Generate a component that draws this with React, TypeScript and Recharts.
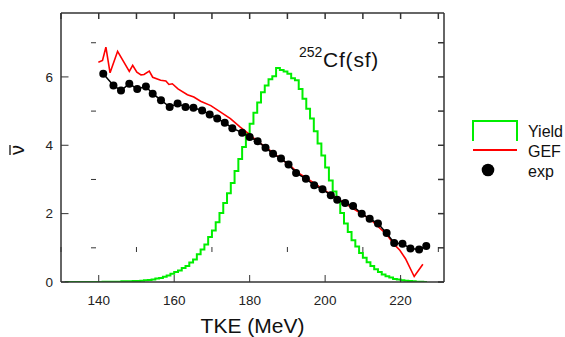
import { ComposedChart, Label, Legend, Line, XAxis, YAxis } from "recharts";

const tkeDomain = [130, 231.5];
const nuDomain = [0, 7.87];

const xLabelTicks = [140, 160, 180, 200, 220];
const xMinorTicks = [130, 150, 170, 190, 210, 230];
const xTopTicks = [130, 140, 150, 160, 170, 180, 190, 200, 210, 220, 230];
const yLabelTicks = [0, 2, 4, 6];
const yMinorTicks = [1, 3, 5, 7];
const yRightTicks = [0, 1, 2, 3, 4, 5, 6, 7];

const seriesNames = ["Yield", "GEF", "exp"];

// fission yield histogram, 1 MeV bins starting at 131 MeV
const yieldFirstBin = 131;
const yieldValues = [
  0.0, 0.0, 0.0, 0.0, 0.0, 0.0, 0.0, 0.0, 0.0, 0.0,
  0.01, 0.01, 0.01, 0.01, 0.01, 0.02, 0.02, 0.02, 0.03, 0.03,
  0.04, 0.05, 0.06, 0.07, 0.1, 0.12, 0.15, 0.19, 0.24, 0.29,
  0.34, 0.41, 0.47, 0.57, 0.66, 0.81, 0.95, 1.1, 1.32, 1.51,
  1.75, 2.02, 2.31, 2.6, 2.9, 3.25, 3.6, 3.95, 4.34, 4.63,
  4.95, 5.25, 5.55, 5.75, 5.93, 6.02, 6.26, 6.2, 6.16, 6.09,
  5.96, 5.9, 5.65, 5.36, 5.07, 4.78, 4.41, 4.05, 3.7, 3.35,
  2.97, 2.65, 2.37, 2.02, 1.71, 1.46, 1.22, 1.04, 0.85, 0.71,
  0.58, 0.47, 0.37, 0.29, 0.22, 0.17, 0.13, 0.09, 0.07, 0.05,
  0.04, 0.03, 0.02, 0.01, 0.01, 0.0,
];

const gefTke = [
  139.9, 141.0, 141.9, 143.0, 145.0, 148.1, 149.0, 150.1, 151.2, 152.0,
  153.4, 154.3, 156.4, 157.8, 158.6, 159.5, 161.0, 163.5, 165.2, 167.0,
  169.7, 172.3, 174.9, 177.5, 179.7, 182.0, 184.2, 186.4, 188.5, 190.7,
  192.5, 196.0, 201.3, 207.4, 211.8, 216.3, 218.3, 219.8, 221.3, 223.6, 225.9,
];
const gefNu = [
  6.43, 6.48, 6.87, 6.12, 6.75, 6.16, 6.34, 6.14, 6.06, 6.07,
  6.17, 5.99, 5.9, 5.88, 5.78, 5.8, 5.65, 5.48, 5.41, 5.29,
  5.16, 4.97, 4.78, 4.53, 4.34, 4.12, 3.95, 3.76, 3.58, 3.41,
  3.22, 2.97, 2.58, 2.15, 1.85, 1.39, 1.1, 0.93, 0.68, 0.16, 0.52,
];

const expTke = [
  141.2, 143.9, 145.9, 148.1, 150.2, 152.5, 154.3, 156.5, 158.8, 160.9,
  163.0, 165.1, 167.4, 169.4, 171.4, 173.4, 175.4, 178.0, 180.0, 182.1,
  184.2, 186.2, 188.3, 190.3, 192.3, 194.9, 197.1, 199.3, 201.5, 203.2,
  205.3, 207.4, 209.7, 211.8, 214.0, 216.3, 218.3, 220.5, 222.6, 224.9, 226.8,
];
const expNu = [
  6.09, 5.75, 5.6, 5.8, 5.65, 5.72, 5.51, 5.32, 5.12, 5.22,
  5.12, 5.1, 5.02, 4.9, 4.78, 4.66, 4.5, 4.37, 4.24, 4.12,
  3.93, 3.75, 3.61, 3.44, 3.19, 3.02, 2.83, 2.71, 2.54, 2.41,
  2.31, 2.22, 2.0, 1.85, 1.71, 1.43, 1.14, 1.12, 0.98, 0.95, 1.05,
];

const yieldData = yieldValues.map((nu, i) => ({ tke: yieldFirstBin + i, nu }));
yieldData.push({ tke: yieldFirstBin + yieldValues.length, nu: yieldValues[yieldValues.length - 1] });
const gefData = gefTke.map((tke, i) => ({ tke, nu: gefNu[i] }));
const expData = expTke.map((tke, i) => ({ tke, nu: expNu[i] }));

const frame = "#333";
const green = "#00ee00";
const red = "#ff0000";
const font = '"Liberation Sans", Arial, Helvetica, sans-serif';

// tick marks only, labels come from the main axes
const noLabel = () => <g />;

function LegendBox(props: any) {
  const payload = props.payload ?? [];
  return (
    <svg width={100} height={72} style={{ display: "block" }}>
      {payload.map((entry: any) => {
        const row = seriesNames.indexOf(entry.value);
        if (row < 0) return null;
        const textY = 24.7 + row * 20;
        return (
          <g key={entry.value}>
            {row === 0 && <path d="M8 29 V9 H52 V29" fill="none" stroke={green} strokeWidth={2} />}
            {row === 1 && <line x1={8} x2={52} y1={38} y2={38} stroke={red} strokeWidth={2} />}
            {row === 2 && <circle cx={23} cy={58} r={6.3} fill="#000" />}
            <text x={63} y={textY} fontSize={16} fill="#111" fontFamily={font}>
              {entry.value}
            </text>
          </g>
        );
      })}
    </svg>
  );
}

function NuLabel(p: any) {
  const vb = p.viewBox;
  const cx = vb.x + 19;
  const cy = vb.y + vb.height / 2 + 2.5;
  return (
    <g transform={`rotate(-90 ${cx} ${cy})`}>
      <text x={cx} y={cy + 5} textAnchor="middle" fontSize={20} fill="#111" fontFamily={font}>
        {"\u03bd"}
      </text>
      <line x1={cx - 5} x2={cx + 5} y1={cy - 9} y2={cy - 9} stroke="#111" strokeWidth={1.3} />
    </g>
  );
}

export default function App() {
  const tickAxis = { type: "number" as const, interval: 0, allowDataOverflow: true, mirror: true, stroke: frame, tick: noLabel };
  return (
    <div style={{ position: "absolute", left: 0, top: 0, width: 565, height: 337, background: "#fff", fontFamily: font }}>
      <ComposedChart width={565} height={337} margin={{ top: 13, right: 121, bottom: 0, left: 0 }}>
        <XAxis
          xAxisId="b"
          type="number"
          dataKey="tke"
          domain={tkeDomain}
          ticks={xLabelTicks}
          interval={0}
          allowDataOverflow
          height={55}
          tickLine={false}
          tickSize={0}
          tickMargin={13}
          stroke={frame}
          strokeWidth={1.5}
          tick={{ fontSize: 13.5, fill: "#222" }}
        >
          <Label value="TKE (MeV)" position="insideBottom" offset={4} style={{ fontSize: 21, fill: "#111" }} />
        </XAxis>
        <XAxis {...tickAxis} xAxisId="bM" dataKey="tke" domain={tkeDomain} ticks={xLabelTicks} height={30} tickSize={7} axisLine={false} />
        <XAxis {...tickAxis} xAxisId="bm" dataKey="tke" domain={tkeDomain} ticks={xMinorTicks} height={30} tickSize={5} axisLine={false} />
        <XAxis
          {...tickAxis}
          xAxisId="t"
          orientation="top"
          dataKey="tke"
          domain={tkeDomain}
          ticks={xTopTicks}
          height={30}
          tickSize={6}
          strokeWidth={1.5}
        />
        <YAxis
          yAxisId="l"
          type="number"
          domain={nuDomain}
          ticks={yLabelTicks}
          interval={0}
          allowDataOverflow
          width={61}
          tickLine={false}
          tickSize={0}
          tickMargin={8}
          stroke={frame}
          strokeWidth={1.5}
          tick={{ fontSize: 13.5, fill: "#222" }}
        >
          <Label content={NuLabel} />
        </YAxis>
        <YAxis {...tickAxis} yAxisId="lM" domain={nuDomain} ticks={yLabelTicks} width={30} tickSize={7.5} axisLine={false} />
        <YAxis {...tickAxis} yAxisId="lm" domain={nuDomain} ticks={yMinorTicks} width={30} tickSize={5} axisLine={false} />
        <YAxis
          {...tickAxis}
          yAxisId="r"
          orientation="right"
          domain={nuDomain}
          ticks={yRightTicks}
          width={30}
          tickSize={6}
          strokeWidth={1.5}
        />
        <Line
          xAxisId="b"
          yAxisId="l"
          name="Yield"
          data={yieldData}
          dataKey="nu"
          type="stepAfter"
          stroke={green}
          strokeWidth={2}
          dot={false}
          isAnimationActive={false}
        />
        <Line
          xAxisId="b"
          yAxisId="l"
          name="GEF"
          data={gefData}
          dataKey="nu"
          type="linear"
          stroke={red}
          strokeWidth={1.6}
          dot={false}
          isAnimationActive={false}
        />
        <Line
          xAxisId="b"
          yAxisId="l"
          name="exp"
          data={expData}
          dataKey="nu"
          type="linear"
          stroke="#000"
          strokeWidth={1.5}
          dot={{ r: 4, fill: "#000", stroke: "none" }}
          isAnimationActive={false}
        />
        <Legend
          layout="horizontal"
          verticalAlign="middle"
          align="center"
          content={LegendBox}
          wrapperStyle={{ left: 465, top: 112, width: 100, height: 72 }}
        />
      </ComposedChart>
      <svg width={565} height={337} style={{ position: "absolute", left: 0, top: 0, pointerEvents: "none" }}>
        <text x={299} y={57} fontSize={14} fill="#111" fontFamily={font}>
          252
        </text>
        <text x={323} y={67} fontSize={21} fill="#111" fontFamily={font} letterSpacing={0.8}>
          Cf(sf)
        </text>
      </svg>
    </div>
  );
}
